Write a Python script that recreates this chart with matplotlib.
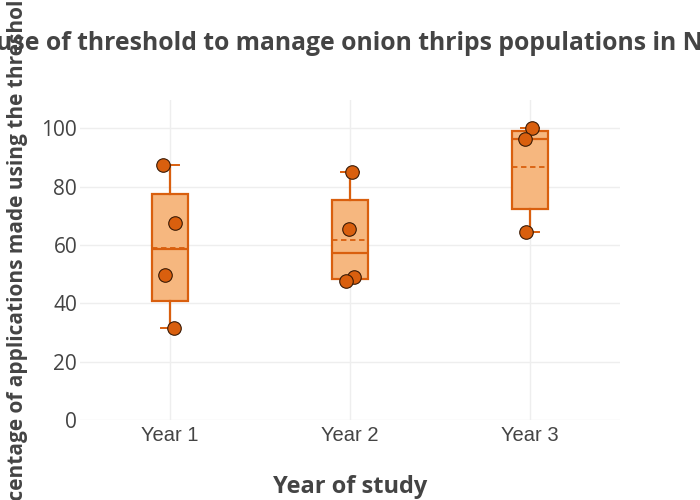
import numpy as np
import matplotlib
matplotlib.use("Agg")
import matplotlib.pyplot as plt

categories = ["Year 1", "Year 2", "Year 3"]
year1 = [87.3, 67.4, 49.8, 31.6]
year2 = [84.9, 65.6, 49.1, 47.8]
year3 = [100.0, 96.2, 64.3]
# horizontal jitter of the points (in category units)
jitter1 = [-0.04, 0.03, -0.03, 0.02]
jitter2 = [0.01, -0.005, 0.02, -0.02]
jitter3 = [0.01, -0.03, -0.02]

series = [year1, year2, year3]
jitters = [jitter1, jitter2, jitter3]

title = "Grower use of threshold to manage onion thrips populations in New York"
xlabel = "Year of study"
ylabel = "Percentage of applications made using the threshold"

line_c = "#d95f0e"
fill_c = "#f6b77f"
text_c = "#444444"
grid_c = "#eeeeee"

fig = plt.figure(figsize=(7, 5), dpi=100)
ax = fig.add_axes([80/700, 80/500, 540/700, 320/500])

stats = []
for vals in series:
    v = np.array(vals)
    q1, med, q3 = np.percentile(v, [25, 50, 75], method="hazen")
    stats.append(dict(med=med, q1=q1, q3=q3, whislo=v.min(), whishi=v.max(),
                      mean=v.mean(), fliers=[]))

pos = np.arange(len(categories))
ax.bxp(stats, positions=pos, widths=0.2, capwidths=0.1, showmeans=True, meanline=True,
       showfliers=False, patch_artist=True,
       boxprops=dict(facecolor=fill_c, edgecolor=line_c, linewidth=1.6),
       medianprops=dict(color=line_c, linewidth=1.6),
       meanprops=dict(color=line_c, linewidth=1.3, linestyle=(0, (3, 2))),
       whiskerprops=dict(color=line_c, linewidth=1.6),
       capprops=dict(color=line_c, linewidth=1.4), zorder=2)

for i, (vals, jit) in enumerate(zip(series, jitters)):
    ax.scatter(np.array(jit) + pos[i], vals, s=95, color=line_c,
               edgecolors="#3a1a05", linewidths=0.8, zorder=4)

ax.set_xlim(-0.5, 2.5)
ax.set_ylim(0, 109.7)
ax.set_xticks(pos)
ax.set_xticklabels(categories, fontfamily="Liberation Sans", fontsize=14.5, color=text_c)
ax.set_yticks([0, 20, 40, 60, 80, 100])
ax.set_yticklabels(["0", "20", "40", "60", "80", "100"], fontfamily="Open Sans",
                   fontsize=15, color=text_c)
ax.tick_params(axis="both", length=0)
ax.tick_params(axis="x", pad=4)
ax.tick_params(axis="y", pad=2)
for s in ax.spines.values():
    s.set_visible(False)
ax.grid(True, color=grid_c, linewidth=1)
ax.set_axisbelow(True)

fig.text(350/700, 1 - 487/500, xlabel, ha="center", va="center", fontfamily="Open Sans",
         fontweight="bold", fontsize=17, color=text_c)
fig.text(18/700, 1 - 261/500, ylabel, rotation=90, ha="center", va="center",
         fontfamily="Open Sans", fontweight="bold", fontsize=15, color=text_c)
fig.text(0.5, 1 - 44/500, title, ha="center", va="center", fontfamily="Open Sans",
         fontweight="bold", fontsize=17.8, color=text_c)

fig.savefig("out.png", dpi=100)
